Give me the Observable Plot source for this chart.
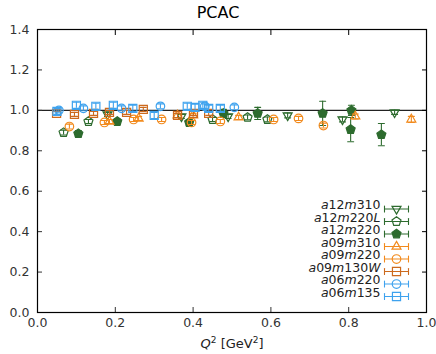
<!DOCTYPE html>
<html><head><meta charset="utf-8">
<script src="https://cdn.jsdelivr.net/npm/d3@7"></script>
<script src="https://cdn.jsdelivr.net/npm/@observablehq/plot@0.6"></script>
<style>
body{margin:0;background:#fff;font-family:"DejaVu Sans",sans-serif;}
#title{height:22px;text-align:center;font-size:16px;line-height:26px;color:#000;}
</style></head><body>
<div id="title">PCAC</div>
<div id="chart"></div>
<script>
// ---- data: [Q^2, value, error] ----
const a12m310  = [[0.18,0.98,0.01],[0.37,0.97,0.01],[0.49,0.97,0.01],[0.643,0.975,0.012],[0.784,0.955,0.012],[0.918,0.99,0.01]];
const a12m220L = [[0.067,0.89,0.012],[0.131,0.945,0.01],[0.45,0.955,0.01],[0.54,0.965,0.012],[0.591,0.955,0.012]];
const a12m220  = [[0.105,0.885,0.015],[0.205,0.945,0.012],[0.39,0.94,0.015],[0.478,0.985,0.02],[0.566,0.985,0.03],[0.733,0.985,0.06],[0.807,1.0,0.025],[0.805,0.905,0.06],[0.884,0.88,0.055]];
const a09m310  = [[0.185,0.945,0.01],[0.26,0.96,0.01],[0.36,0.975,0.01],[0.40,0.975,0.01],[0.517,0.965,0.01],[0.817,0.97,0.012],[0.961,0.955,0.015]];
const a09m220  = [[0.082,0.92,0.012],[0.172,0.94,0.01],[0.247,0.955,0.01],[0.319,0.955,0.01],[0.396,0.94,0.01],[0.47,0.945,0.01],[0.607,0.955,0.01],[0.671,0.96,0.01],[0.735,0.925,0.012]];
const a09m130W = [[0.049,0.985,0.01],[0.095,0.98,0.01],[0.144,0.985,0.01],[0.185,0.99,0.01],[0.229,0.99,0.01],[0.272,1.005,0.01],[0.36,0.975,0.01],[0.401,0.985,0.01],[0.44,0.985,0.01]];
const a06m220  = [[0.055,1.0,0.012],[0.118,1.01,0.012],[0.216,1.01,0.012],[0.316,1.02,0.012],[0.43,1.02,0.012],[0.506,1.015,0.012]];
const a06m135  = [[0.05,0.995,0.015],[0.10,1.025,0.015],[0.15,1.02,0.015],[0.195,1.025,0.015],[0.245,1.01,0.015],[0.30,0.975,0.015],[0.385,1.02,0.015],[0.405,1.015,0.015],[0.425,1.025,0.015],[0.44,1.01,0.015],[0.47,1.01,0.015]];

const seriesNames = ["a12m310","a12m220L","a12m220","a09m310","a09m220","a09m130W","a06m220","a06m135"];
const seriesData  = [a12m310, a12m220L, a12m220, a09m310, a09m220, a09m130W, a06m220, a06m135];
const xTicks = [0, 0.2, 0.4, 0.6, 0.8, 1.0];
const yTicks = [0, 0.2, 0.4, 0.6, 0.8, 1.0, 1.2, 1.4];

// ---- styles ----
const GREEN = "#2d6b2e", ORANGE = "#f28a1c", DORANGE = "#cc6a1e", BLUE = "#3ea2ee";
const rad = s => Math.sqrt(s / Math.PI);
const symTriDown = {draw(c, s){const R = rad(s)*1.15; c.moveTo(0, R); c.lineTo(R*0.866, -R/2); c.lineTo(-R*0.866, -R/2); c.closePath();}};
const symTriUp = {draw(c, s){const R = rad(s)*1.15; c.moveTo(0, -R); c.lineTo(R*0.866, R/2); c.lineTo(-R*0.866, R/2); c.closePath();}};
const symPent = {draw(c, s){const R = rad(s)*1.05; for (let i = 0; i < 5; i++){const a = -Math.PI/2 + i*2*Math.PI/5; const px = R*Math.cos(a), py = R*Math.sin(a); i ? c.lineTo(px, py) : c.moveTo(px, py);} c.closePath();}};
const symSquare = {draw(c, s){const h = rad(s)*0.9; c.rect(-h, -h, 2*h, 2*h);}};
const symCircle = {draw(c, s){const r = rad(s)*0.95; c.moveTo(r, 0); c.arc(0, 0, r, 0, 2*Math.PI);}};
const styles = [
  {color: GREEN, symbol: symTriDown, fill: "none"},
  {color: GREEN, symbol: symPent, fill: "none"},
  {color: GREEN, symbol: symPent, fill: GREEN},
  {color: ORANGE, symbol: symTriUp, fill: "none"},
  {color: ORANGE, symbol: symCircle, fill: "none"},
  {color: DORANGE, symbol: symSquare, fill: "none"},
  {color: BLUE, symbol: symCircle, fill: "none"},
  {color: BLUE, symbol: symSquare, fill: "none"}
];
const lineShape = {draw(c, l){c.moveTo(0, 0); c.lineTo(0, -l);}};

const marks = [];
marks.push(Plot.ruleY([1], {stroke: "#222", strokeWidth: 1.4}));
seriesData.forEach((data, i) => {
  const st = styles[i];
  marks.push(Plot.ruleX(data, {x: d => d[0], y1: d => d[1]-d[2], y2: d => d[1]+d[2], stroke: st.color, strokeWidth: 1.1}));
  marks.push(Plot.vector(data, {x: d => d[0], y: d => d[1]-d[2], rotate: 90, length: 6, anchor: "middle", shape: lineShape, stroke: st.color, strokeWidth: 1.1}));
  marks.push(Plot.vector(data, {x: d => d[0], y: d => d[1]+d[2], rotate: 90, length: 6, anchor: "middle", shape: lineShape, stroke: st.color, strokeWidth: 1.1}));
  marks.push(Plot.dot(data, {x: d => d[0], y: d => d[1], r: 4.5, symbol: st.symbol, stroke: st.color, fill: st.fill, strokeWidth: 1.2}));
});
// legend (inside, bottom-right)
seriesNames.forEach((name, i) => {
  const st = styles[i];
  const dy = -(16 + (seriesNames.length - 1 - i) * 12.5);
  marks.push(Plot.text([name], {frameAnchor: "bottom-right", dx: -46, dy, text: d => d, textAnchor: "end", fontSize: 12.5, fill: "#222"}));
  marks.push(Plot.vector([0], {frameAnchor: "bottom-right", dx: -30, dy, rotate: 90, length: 24, anchor: "middle", shape: lineShape, stroke: st.color, strokeWidth: 1.1}));
  marks.push(Plot.vector([0], {frameAnchor: "bottom-right", dx: -42, dy, rotate: 0, length: 6, anchor: "middle", shape: lineShape, stroke: st.color, strokeWidth: 1.1}));
  marks.push(Plot.vector([0], {frameAnchor: "bottom-right", dx: -18, dy, rotate: 0, length: 6, anchor: "middle", shape: lineShape, stroke: st.color, strokeWidth: 1.1}));
  marks.push(Plot.dot([0], {frameAnchor: "bottom-right", dx: -30, dy, r: 4.5, symbol: st.symbol, stroke: st.color, fill: st.fill, strokeWidth: 1.2}));
});
// axes
marks.push(Plot.axisX(xTicks, {anchor: "bottom", tickSize: -5, tickPadding: 11, tickFormat: d3.format(".1f"), label: null, fontSize: 12.5, color: "#333"}));
marks.push(Plot.axisX(xTicks, {anchor: "top", tickSize: -5, tickFormat: () => "", label: null}));
marks.push(Plot.axisY(yTicks, {anchor: "left", tickSize: -5, tickPadding: 13, tickFormat: d3.format(".1f"), label: null, fontSize: 12.5, color: "#333"}));
marks.push(Plot.axisY(yTicks, {anchor: "right", tickSize: -5, tickFormat: () => "", label: null}));
marks.push(Plot.text(["xlabel"], {frameAnchor: "bottom", dy: 35, text: d => d, fontSize: 13, fill: "#222"}));
marks.push(Plot.frame({stroke: "#000", strokeWidth: 1.2}));

const chart = Plot.plot({
  width: 436, height: 332,
  marginTop: 7, marginBottom: 42, marginLeft: 37, marginRight: 10,
  style: {fontFamily: "DejaVu Sans, sans-serif", background: "white", overflow: "visible"},
  x: {domain: [0, 1]},
  y: {domain: [0, 1.4]},
  marks
});
document.getElementById("chart").appendChild(chart);

// rich text: italic letters in legend labels, Q^2 [GeV^2] axis label
chart.querySelectorAll("text").forEach(t => {
  const s = t.textContent;
  if (seriesNames.includes(s)) {
    t.innerHTML = s.replace(/([A-Za-z])/g, '<tspan font-style="italic">$1</tspan>');
  } else if (s === "xlabel") {
    t.innerHTML = '<tspan font-style="italic">Q</tspan><tspan dy="-5" font-size="9">2</tspan><tspan dy="5"> [GeV</tspan><tspan dy="-5" font-size="9">2</tspan><tspan dy="5">]</tspan>';
  }
});
</script>
</body></html>
